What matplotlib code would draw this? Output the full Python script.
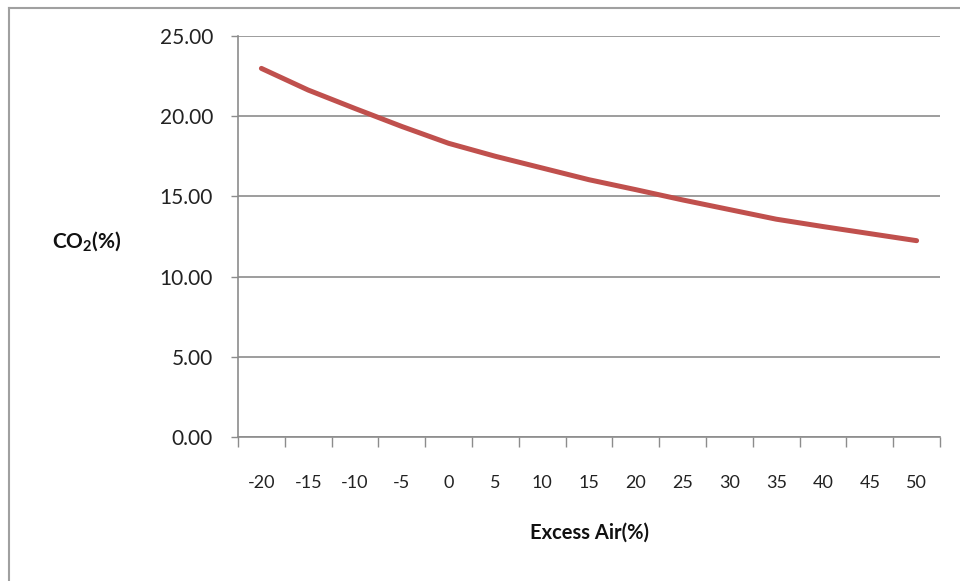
import matplotlib
matplotlib.use("Agg")
import matplotlib.pyplot as plt
from matplotlib.lines import Line2D

plt.rcParams['font.family'] = ['Lato', 'DejaVu Sans']
plt.rcParams['mathtext.fontset'] = 'custom'
plt.rcParams['mathtext.rm'] = 'Lato'
plt.rcParams['mathtext.bf'] = 'Lato:bold'

# Excess air categories (%) and CO2 concentration (%)
excess_air = ['-20', '-15', '-10', '-5', '0', '5', '10', '15', '20',
              '25', '30', '35', '40', '45', '50']
co2 = [22.98, 21.63, 20.48, 19.36, 18.31, 17.50, 16.77, 16.04, 15.42,
       14.78, 14.18, 13.58, 13.12, 12.68, 12.24]
y_ticks = [0, 5, 10, 15, 20, 25]

W, H = 960, 581
fig = plt.figure(figsize=(W / 100, H / 100), dpi=100)
fig.patch.set_facecolor('white')

ax = fig.add_axes([238 / W, 1 - 437 / H, (940 - 238) / W, (437 - 36) / H])

grid_col = '#8c8c8c'
pos = list(range(len(excess_air)))
ax.plot(pos, co2, color='#c0504d', lw=3.6, solid_capstyle='round', zorder=3)

ax.set_xlim(-0.5, len(excess_air) - 0.5)
ax.set_ylim(0, 25)

# y axis
ax.set_yticks(y_ticks)
ax.set_yticklabels([f'{v:.2f}' for v in y_ticks])
ax.yaxis.grid(True, color=grid_col, lw=1.2)
ax.set_axisbelow(True)
ax.tick_params(axis='y', direction='out', length=5, width=1, color=grid_col,
               pad=13, labelsize=15, labelcolor='#222222')

# x axis: labels at category centres, tick marks at category boundaries
ax.set_xticks(pos)
ax.set_xticklabels(excess_air)
ax.set_xticks([p - 0.5 for p in pos] + [len(pos) - 0.5], minor=True)
ax.tick_params(axis='x', which='major', length=0, pad=27, labelsize=13,
               labelcolor='#222222')
ax.tick_params(axis='x', which='minor', direction='out', length=7, width=1,
               color=grid_col)

for s in ['top', 'right']:
    ax.spines[s].set_visible(False)
for s in ['left', 'bottom']:
    ax.spines[s].set_color(grid_col)
    ax.spines[s].set_linewidth(1.2)

fig.text(590 / W, 1 - 532.5 / H, 'Excess Air(%)', ha='center', va='center',
         fontsize=14.5, fontweight='bold', color='#111111')
fig.text(87 / W, 1 - 241 / H, r'$\mathbf{CO_2(\%)}$', ha='center', va='center',
         fontsize=15, color='#111111')

# outer chart border (top and left edges)
fig.add_artist(Line2D([8.5 / W, 1], [1 - 7.5 / H, 1 - 7.5 / H], color='#a0a0a0', lw=1.5))
fig.add_artist(Line2D([8.5 / W, 8.5 / W], [0, 1 - 7.5 / H], color='#a0a0a0', lw=1.5))

fig.savefig('out.png', dpi=100, facecolor='white')
